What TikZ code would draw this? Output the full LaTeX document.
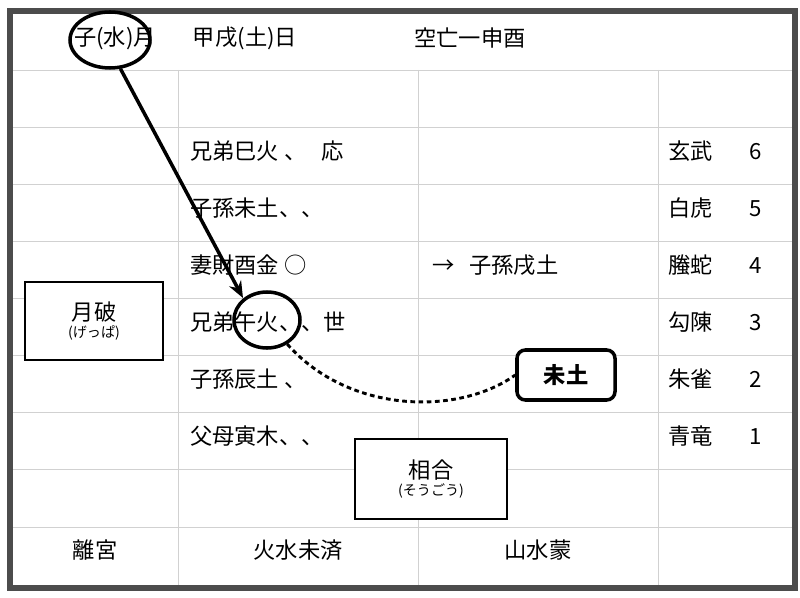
\documentclass[tikz,border=0pt]{standalone}
\usepackage{fontspec}
\setmainfont{Noto Sans CJK JP}
\usetikzlibrary{arrows.meta,shapes.geometric}

\begin{document}
\begin{tikzpicture}[x=0.3mm,y=-0.3mm]
\tikzset{
	cell/.style={anchor=west, font=\fontsize{19}{22}\selectfont},
	mid/.style={font=\fontsize{19}{22}\selectfont},
	labelbox/.style={draw, line width=1.8pt, fill=white, align=center, inner sep=0pt},
	circ/.style={draw, line width=3pt, ellipse, inner sep=0pt}
}
\useasboundingbox (0,0) rectangle (800,598);

% grid
\foreach \y in {70,127,184,241,298,355,412,469,527}
	{\draw[black!18, thick] (10,\y) -- (795,\y);}
\foreach \x in {178,418,658}
	{\draw[black!18, thick] (\x,70) -- (\x,588);}
\draw[black!70, line width=1.6mm] (10,11) rectangle (795,588);

% header
\node[mid] (MON) at (115,38) {子(水)月};
\node[mid] (DAY) at (245,38) {甲戌(土)日};
\node[mid] (KUB) at (470,38) {空亡一申酉};

% lines
\node[cell] (L6) at (186,151) {兄弟巳火\ 、\ \ \ 応};
\node[cell] (L5) at (186,208) {子孫未土、、};
\node[cell] (L4) at (186,265) {妻財酉金 ○};
\node[cell] (L3) at (186,322) {兄弟午火、、世};
\node[cell] (L2) at (186,379) {子孫辰土\ 、};
\node[cell] (L1) at (186,436) {父母寅木、、};
\node[cell] (HEN) at (418,265) {\ \ →\ \ \ 子孫戌土};

% six beasts
\foreach \n/\b/\yy in {6/玄武/151,5/白虎/208,4/螣蛇/265,3/勾陳/322,2/朱雀/379,1/青竜/436}
	{\node[cell] (B\n) at (664,\yy) {\b\hspace{11mm}\n};}

% bottom row
\node[mid] (PAL) at (95,550) {離宮};
\node[mid] (HON) at (298,550) {火水未済};
\node[mid] (YUK) at (538,550) {山水蒙};

% marks
\node[circ, minimum width=80*0.3mm, minimum height=56*0.3mm] (C1) at (110,40) {};
\node[circ, minimum width=66*0.3mm, minimum height=56*0.3mm] (C2) at (267,320) {};
\coordinate (E2) at (243,298);
\draw[line width=3pt, -{Stealth[length=5mm,width=4mm]}] (C1.-70) -- (E2);

\node[labelbox, minimum width=138*0.3mm, minimum height=78*0.3mm] (GP) at (94,321)
	{{\fontsize{19}{24}\selectfont 月破}\\[1mm]{\fontsize{12}{14}\selectfont (げっぱ)}};
\node[labelbox, rounded corners=2.5mm, line width=3pt, minimum width=98*0.3mm, minimum height=50*0.3mm] (MD) at (566,375)
	{\fontsize{19}{22}\selectfont\bfseries 未土};
\node[labelbox, minimum width=152*0.3mm, minimum height=80*0.3mm] (SG) at (431,479)
	{{\fontsize{19}{24}\selectfont 相合}\\[1mm]{\fontsize{12}{14}\selectfont (そうごう)}};

\draw[line width=2.5pt, dash pattern=on 4pt off 3pt] (C2.-50) .. controls (350,415) and (460,415) .. (MD.west);
\end{tikzpicture}
\end{document}
